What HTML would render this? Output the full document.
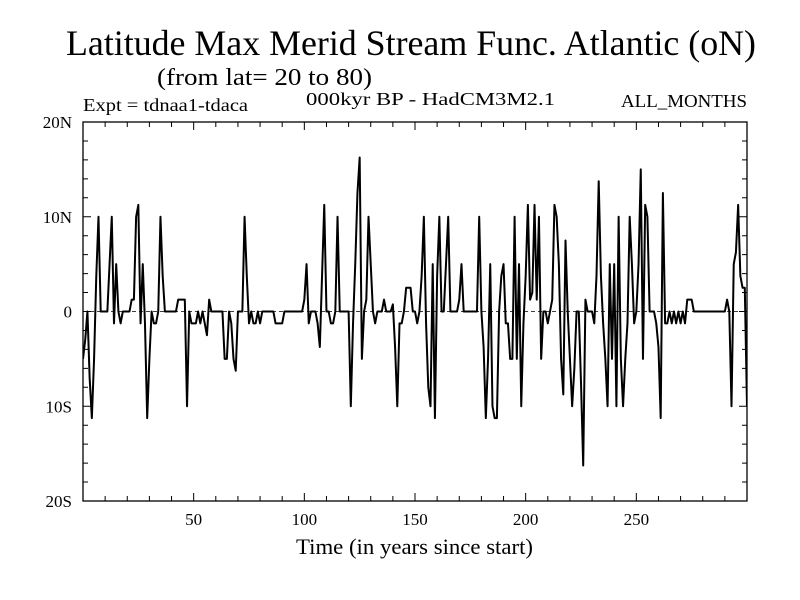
<!DOCTYPE html>
<html><head><meta charset="utf-8"><style>
body{margin:0;background:#fff;}
svg{display:block;font-family:"Liberation Serif",serif;}
</style></head><body>
<svg id="chart" width="800" height="600" viewBox="0 0 800 600">
<text x="66" y="55" font-size="36" textLength="690" lengthAdjust="spacingAndGlyphs">Latitude Max Merid Stream Func. Atlantic (oN)</text>
<text x="157" y="85" font-size="24" textLength="215" lengthAdjust="spacingAndGlyphs">(from lat= 20 to 80)</text>
<text x="83" y="111" font-size="18" textLength="165" lengthAdjust="spacingAndGlyphs">Expt = tdnaa1-tdaca</text>
<text x="306" y="105" font-size="18" textLength="249" lengthAdjust="spacingAndGlyphs">000kyr BP - HadCM3M2.1</text>
<text x="621" y="107" font-size="18" textLength="126" lengthAdjust="spacingAndGlyphs">ALL_MONTHS</text>
<text x="296" y="554" font-size="22" textLength="237" lengthAdjust="spacingAndGlyphs">Time (in years since start)</text>
<g id="axes"></g>
<g id="series"></g>
</svg>
<script>
const values = [-5,-3,0,-7,-11.25,-5,3.75,10,0,0,0,0,5,10,-1.25,5,0,-1.25,0,0,0,0,1.25,1.25,10,11.25,-1.25,5,-1.25,-11.25,-5,0,-1.25,-1.25,0,10,3.75,0,0,0,0,0,0,1.25,1.25,1.25,1.25,-10,0,-1.25,-1.25,
-1.25,0,-1.25,0,-1.25,-2.5,1.25,0,0,0,0,0,0,-5,-5,0,-1.25,-5,-6.25,0,0,0,10,3.75,-1.25,0,-1.25,-1.25,0,-1.25,0,0,0,0,0,0,-1.25,-1.25,-1.25,-1.25,0,0,0,0,0,0,0,0,0,1.25,
5,-1.25,0,0,0,-1.25,-3.75,3.75,11.25,0,0,-1.25,-1.25,0,10,0,0,0,0,0,-10,-1.25,5,12.5,16.25,-5,0,1.25,10,5,0,-1.25,0,0,0,1.25,0,0,0,0.75,-3.75,-10,-1.25,-1.25,0,2.5,2.5,2.5,0,0,
-1.25,0,3.75,10,-1.25,-8,-10,5,-11.25,3.75,10,0,0,5,10,0,0,0,0,1.25,5,0,0,0,0,0,0,0,10,0,-3.75,-11.25,-5,5,-10,-11.25,-11.25,0,3.75,5,-1.25,-1.25,-5,-5,10,-5,5,-10,-1.25,
3.75,11.25,1.25,2,11.25,1.25,10,-5,0,0,-1.25,0,1.25,11.25,10,5,-5,-8.75,7.5,0,-5,-10,-6,0,0,-7.5,-16.25,1.25,0,0,0,-1.25,3.75,13.75,3.75,-1.25,-5,-10,5,-5,5,-10,10,-5,-10,-5,-1.25,10,5,
-1.25,0,5,15,-5,11.25,10,0,0,0,-1.25,-3.75,-11.25,12.5,-1.25,-1.25,0,-1.25,0,-1.25,0,-1.25,0,-1.25,1.25,1.25,1.25,0,0,0,0,0,0,0,0,0,0,0,0,0,0,0,1.25,0,-10,5,6.25,11.25,3.75,2.5,2.5,-10];
const xTicks = [50,100,150,200,250];
const yTickVals = [20,10,0,-10,-20];
const yTickLabels = ["20N","10N","0","10S","20S"];
const X0=83,X1=747,Y0=122,Y1=501, XMIN=0,XMAX=300, YMIN=-20,YMAX=20;
const sx=v=>X0+(v-XMIN)*(X1-X0)/(XMAX-XMIN);
const sy=v=>Y1-(v-YMIN)*(Y1-Y0)/(YMAX-YMIN);
const NS="http://www.w3.org/2000/svg";
const axes=document.getElementById('axes'), series=document.getElementById('series');
function mk(tag,attrs,parent){const e=document.createElementNS(NS,tag);for(const k in attrs)e.setAttribute(k,attrs[k]);parent.appendChild(e);return e;}
const frame=mk('rect',{x:X0,y:Y0,width:X1-X0,height:Y1-Y0,fill:'none',stroke:'#000','stroke-width':1.3},axes);


let d='';
for(let v=10;v<300;v+=10){const L=(v%50===0)?8:5;const x=sx(v);d+=`M${x},${Y1}v${-L}M${x},${Y0}v${L}`;}
for(let v=-18;v<20;v+=2){const L=(v%10===0)?8:5;const y=sy(v);d+=`M${X0},${y}h${L}M${X1},${y}h${-L}`;}
const ticks=mk('path',{d:d,stroke:'#000','stroke-width':1,fill:'none'},axes);


xTicks.forEach(v=>{const t=mk('text',{x:sx(v),y:525,'font-size':17,'text-anchor':'middle'},axes);t.textContent=v;

});
yTickVals.forEach((v,i)=>{const t=mk('text',{x:72,y:sy(v)+6,'font-size':17,'text-anchor':'end'},axes);t.textContent=yTickLabels[i];

});
const zl=mk('line',{x1:X0,x2:X1,y1:sy(0),y2:sy(0),stroke:'#000','stroke-width':0.8,'stroke-dasharray':'4,3'},axes);


const cp=mk('clipPath',{id:'clp'},series);
mk('rect',{x:X0,y:Y0,width:X1-X0,height:Y1-Y0},cp);
let p='';values.forEach((v,i)=>{p+=(i?'L':'M')+sx(i).toFixed(2)+','+sy(v).toFixed(2);});
const line=mk('path',{d:p,fill:'none',stroke:'#000','stroke-width':2,'stroke-linejoin':'round','clip-path':'url(#clp)'},series);


</script>
</body></html>
